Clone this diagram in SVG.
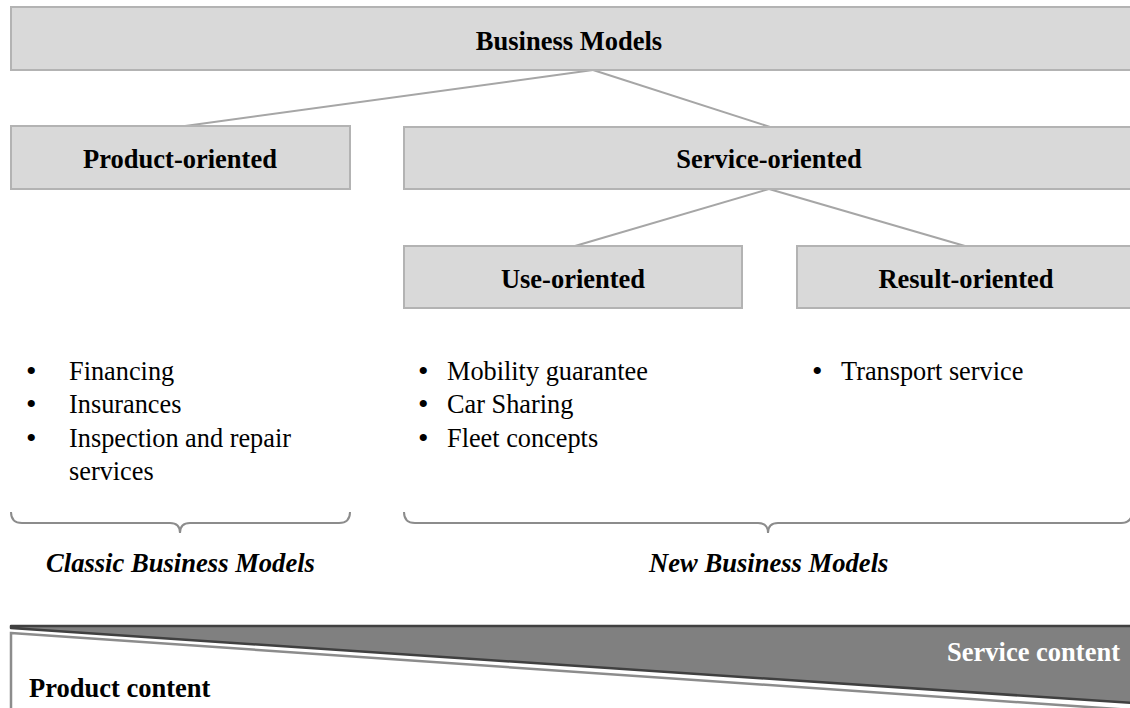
<svg xmlns="http://www.w3.org/2000/svg" width="1130" height="708" viewBox="0 0 1130 708">
<style>
.box{fill:#d9d9d9;stroke:#b3b3b3;stroke-width:2}
.lbl{font-family:"Liberation Serif","Times New Roman",serif;font-weight:bold;font-size:26.5px;fill:#000;text-anchor:middle}
.item{font-family:"Liberation Serif","Times New Roman",serif;font-size:26.3px;fill:#000}
.bul{font-family:"Liberation Serif","Times New Roman",serif;font-size:30px;fill:#000}
.cat{font-family:"Liberation Serif","Times New Roman",serif;font-size:26.6px;font-weight:bold;font-style:italic;fill:#000}
.conn{stroke:#a6a6a6;stroke-width:2;fill:none}
.brace{stroke:#8c8c8c;stroke-width:2;fill:none}
</style>
<rect width="1130" height="708" fill="#fff"/>
<g id="connectors">
<line class="conn" x1="593" y1="70" x2="185" y2="126"/>
<line class="conn" x1="593" y1="70" x2="770" y2="127"/>
<line class="conn" x1="769" y1="189" x2="575" y2="246"/>
<line class="conn" x1="769" y1="189" x2="965" y2="246"/>
</g>
<g id="business-models">
<rect class="box" x="11" y="7" width="1122" height="63"/>
<text class="lbl" x="569" y="50">Business Models</text>
</g>
<g id="product-oriented">
<rect class="box" x="11" y="126" width="339" height="63"/>
<text class="lbl" x="180" y="168">Product-oriented</text>
</g>
<g id="service-oriented">
<rect class="box" x="404" y="127" width="731" height="62"/>
<text class="lbl" x="769" y="168">Service-oriented</text>
</g>
<g id="use-oriented">
<rect class="box" x="404" y="246" width="338" height="62"/>
<text class="lbl" x="573" y="288">Use-oriented</text>
</g>
<g id="result-oriented">
<rect class="box" x="797" y="246" width="339" height="62"/>
<text class="lbl" x="966" y="288">Result-oriented</text>
</g>
<g id="classic-list">
<text class="bul" x="26" y="381">•</text><text class="item" x="69" y="380">Financing</text>
<text class="bul" x="26" y="414">•</text><text class="item" x="69" y="413">Insurances</text>
<text class="bul" x="26" y="448">•</text><text class="item" x="69" y="447">Inspection and repair</text>
<text class="item" x="69" y="480">services</text>
</g>
<g id="use-list">
<text class="bul" x="418" y="381">•</text><text class="item" x="447" y="380">Mobility guarantee</text>
<text class="bul" x="418" y="414">•</text><text class="item" x="447" y="413">Car Sharing</text>
<text class="bul" x="418" y="448">•</text><text class="item" x="447" y="447">Fleet concepts</text>
</g>
<g id="result-list">
<text class="bul" x="812" y="381">•</text><text class="item" x="841" y="380">Transport service</text>
</g>
<g id="classic-brace">
<path class="brace" d="M11,512 Q11,523 22,523 L170,523 Q180,523 180,533 Q180,523 190,523 L339,523 Q350,523 350,512"/>
<text class="cat" x="46" y="572">Classic Business Models</text>
</g>
<g id="new-brace">
<path class="brace" d="M404,512 Q404,523 415,523 L758,523 Q768,523 768,533 Q768,523 778,523 L1121,523 Q1132,523 1132,512"/>
<text class="cat" x="649" y="572">New Business Models</text>
</g>
<g id="content-scale">
<polygon points="11,633 1132,710 1132,712 11,712" fill="#fff" stroke="#8c8c8c" stroke-width="2.5"/>
<polygon points="11,626 1132,626 1132,703 11,628" fill="#808080" stroke="#404040" stroke-width="2.5" stroke-linejoin="round"/>
<text class="lbl" x="1120" y="661" style="text-anchor:end;fill:#fff">Service content</text>
<text class="lbl" x="29" y="697" style="text-anchor:start">Product content</text>
</g>
</svg>
